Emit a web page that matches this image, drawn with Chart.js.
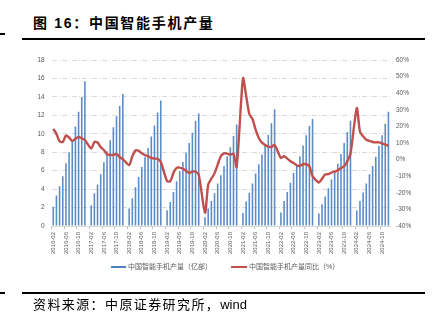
<!DOCTYPE html>
<html>
<head>
<meta charset="utf-8">
<script src="https://cdn.jsdelivr.net/npm/chart.js@4.4.1/dist/chart.umd.min.js"></script>
<style>
  body { margin: 0; background: #fff; }
  #page { position: relative; width: 437px; height: 323px; overflow: hidden; background: #fff; }
  #title { position: absolute; left: 33px; top: 16px; font: bold 14px "Liberation Sans", "Noto Sans CJK SC"; letter-spacing: 1.7px; line-height: 14px; color: #000; white-space: nowrap; }
  .rule { position: absolute; background: #000; height: 2px; }
  #source { position: absolute; left: 33px; top: 298px; font: 13px "Liberation Sans", "Noto Sans CJK SC"; letter-spacing: 1.4px; line-height: 14px; color: #000; white-space: nowrap; }
  #source span { letter-spacing: 0; }
  .legend { position: absolute; top: 262px; font: 7px "Liberation Sans", "Noto Sans CJK SC"; color: #595959; line-height: 9px; white-space: nowrap; }
  .swatch { position: absolute; height: 2px; }
  canvas { position: absolute; left: 0; top: 0; }
</style>
</head>
<body>
<div id="page">
  <div id="title">图 16：中国智能手机产量</div>
  <div class="rule" style="left:0;top:33px;width:5px;"></div>
  <div class="rule" style="left:22px;top:37.5px;width:403px;"></div>
  <canvas id="phoneChart" width="437" height="270"></canvas>
  <div class="swatch" style="left:111px;top:265.5px;width:15px;height:2.5px;background:#4f81bd;"></div>
  <div class="legend" style="left:128px;">中国智能手机产量（亿部）</div>
  <div class="swatch" style="left:231px;top:265.5px;width:16px;background:#c0504d;"></div>
  <div class="legend" style="left:249px;">中国智能手机产量同比（%）</div>
  <div class="rule" style="left:0;top:291.5px;width:5px;"></div>
  <div class="rule" style="left:22px;top:291.5px;width:403px;"></div>
  <div id="source">资料来源：中原证券研究所，<span>wind</span></div>
</div>
<script>
// months 2016-02 .. 2024-12, January has no data (Jan-Feb reported together)
const years = [2016, 2017, 2018, 2019, 2020, 2021, 2022, 2023, 2024];
const months = ['01', '02', '03', '04', '05', '06', '07', '08', '09', '10', '11', '12'];

// cumulative output, 亿部
const output = [
    2.1, 3.3, 4.3, 5.4, 6.8, 8.0, 9.2, 10.8, 12.4, 14.0, 15.7,
    null, 2.25, 3.55, 4.5, 5.6, 6.9, 8.1, 9.3, 10.7, 11.9, 13.0, 14.3,
    null, 1.9, 3.0, 4.2, 5.3, 6.4, 7.45, 8.45, 9.7, 10.9, 12.3, 13.6,
    null, 1.7, 2.6, 3.7, 4.85, 5.95, 6.95, 7.95, 9.0, 10.1, 11.4, 12.2,
    null, 0.95, 1.9, 2.7, 3.55, 4.6, 5.5, 6.5, 7.55, 8.55, 9.75, 11.0,
    null, 1.4, 2.65, 3.6, 4.6, 5.7, 6.7, 7.75, 8.7, 9.9, 11.15, 12.65,
    null, 1.47, 2.7, 3.7, 4.7, 5.75, 6.6, 7.55, 8.72, 9.85, 10.85, 11.6,
    null, 1.35, 2.35, 3.2, 4.1, 5.05, 5.85, 6.75, 7.8, 9.0, 10.2, 11.4,
    null, 1.68, 2.7, 3.62, 4.6, 5.6, 6.5, 7.5, 8.68, 9.85, 11.1, 12.4
];

// year on year, %
const yoy = [
    18.5, 15.5, 11.0, 10.6, 14.5, 13.3, 11.3, 12.5, 13.6, 12.8, 11.8,
    null, 6.7, 10.6, 10.3, 7.5, 5.8, 3.2, 2.8, 2.8, 3.4, 1.4, 0.3,
    null, -3.3, 2.0, 5.5, 5.3, 3.8, 2.7, 2.0, 1.0, 0.6, 0.5, -1.5,
    null, -13.0, -13.0, -8.0, -5.0, -4.8, -5.5, -6.7, -8.0, -7.2, -7.3, -9.0,
    null, -32.0, -15.0, -11.5, -8.3, -3.0, 2.0, 3.8, 3.6, 3.0, 3.5, -4.5,
    null, 49.0, 38.5, 27.5, 24.5, 18.0, 13.0, 10.2, 8.8, 7.8, 7.6, 8.8,
    null, 1.0, 2.0, 0.6, -1.0, -2.0, -3.5, -3.8, -2.8, -2.8, -4.0, -10.0,
    null, -13.8, -11.5, -9.0, -8.8, -7.8, -7.2, -6.5, -5.0, -4.0, -1.0, 3.5,
    null, 31.0, 16.8, 14.0, 12.0, 11.3, 10.6, 10.4, 10.4, 9.8, 9.0, 8.3
];

const labels = [];
years.forEach(y => {
    months.forEach(m => {
        if (y === 2016 && m === '01') return;
        labels.push(y + '-' + m);
    });
});

Chart.defaults.font.family = '"Liberation Sans", Arial, sans-serif';
Chart.defaults.color = '#595959';

const ctx = document.getElementById('phoneChart').getContext('2d');
const phoneChart = new Chart(ctx, {
    type: 'bar',
    data: {
        labels: labels,
        datasets: [{
            type: 'line',
            label: '中国智能手机产量同比（%）',
            data: yoy,
            yAxisID: 'y1',
            borderColor: '#c0504d',
            borderWidth: 2.4,
            pointRadius: 0,
            tension: 0.25,
            spanGaps: true,
            order: 0
        }, {
            label: '中国智能手机产量（亿部）',
            data: output,
            yAxisID: 'y',
            backgroundColor: '#5b8cc8',
            barPercentage: 0.5,
            categoryPercentage: 1.0,
            order: 1
        }]
    },
    options: {
        responsive: false,
        animation: false,
        layout: { padding: { left: 20, right: 17, top: 60, bottom: 4 } },
        plugins: {
            legend: { display: false },
            tooltip: { enabled: false }
        },
        scales: {
            x: {
                offset: true,
                grid: {
                    drawOnChartArea: false,
                    drawTicks: true,
                    tickLength: 3,
                    offset: true,
                    color: c => (c.index % 4 === 0 ? '#bfbfbf' : 'rgba(0,0,0,0)')
                },
                border: { display: true, color: '#d9d9d9' },
                ticks: {
                    autoSkip: false,
                    minRotation: 90,
                    maxRotation: 90,
                    padding: 3,
                    font: { size: 6 },
                    callback: (v, i) => (i % 4 === 0 ? labels[i] : '')
                },
                afterFit: s => { s.height = 40; }
            },
            y: {
                position: 'left',
                min: 0,
                max: 18,
                ticks: { stepSize: 2, padding: 7, font: { size: 6.5 } },
                grid: { color: '#d9d9d9', drawTicks: false },
                border: { display: false, dash: [5, 2, 1, 2] },
                afterFit: s => { s.width = 31.7; }
            },
            y1: {
                position: 'right',
                min: -40,
                max: 60,
                ticks: { stepSize: 10, padding: 6, font: { size: 6.5 }, callback: v => v + '%' },
                grid: { display: false, drawTicks: false },
                border: { display: false },
                afterFit: s => { s.width = 30; }
            }
        }
    }
});
</script>
</body>
</html>
